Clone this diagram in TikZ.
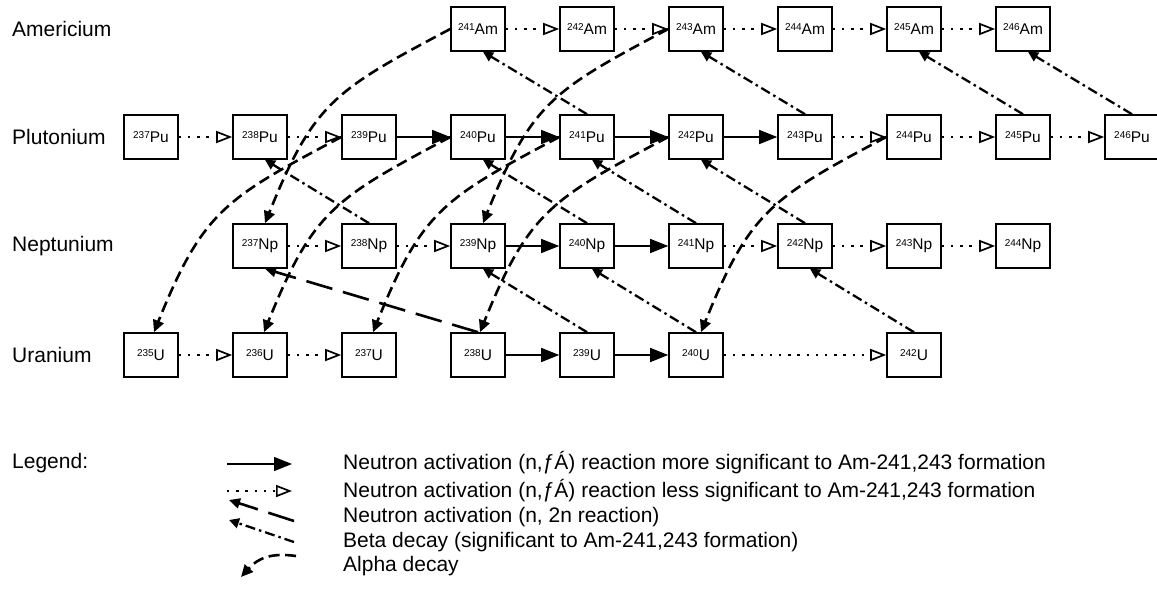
\documentclass[tikz,border=0pt]{standalone}
\usepackage{fontspec}
\setmainfont{Liberation Sans}
\usetikzlibrary{arrows.meta,calc}
\newcommand\isot[2]{\raisebox{3.6pt}{\fontsize{10}{10}\selectfont #1}#2}
\begin{document}
\begin{tikzpicture}[x=1pt,y=1pt,
  box/.style={draw,line width=1.6pt,fill=white,minimum width=54pt,minimum height=44pt,inner sep=0pt,font=\fontsize{15.5}{18}\selectfont},
  lbl/.style={anchor=west,inner sep=0pt,font=\fontsize{21}{24}\selectfont},
  sig/.style={line width=1.5pt,-{Triangle[length=18pt,width=14pt]}},
  less/.style={line width=2.4pt,dash pattern=on 2.4pt off 6.8pt,-{Triangle[open,length=16pt,width=12pt,line width=1.7pt]}},
  beta/.style={line width=2.3pt,dash pattern=on 10pt off 4pt on 2.5pt off 4pt,-{Triangle[length=10pt,width=10pt]}},
  alpha/.style={line width=2.6pt,dash pattern=on 11pt off 5.5pt,-{Triangle[length=12pt,width=11pt]}},
  ntwo/.style={line width=2.6pt,dash pattern=on 27pt off 11pt,-{Triangle[length=11pt,width=10pt]}},
  arc/.style={out=208,in=68,looseness=1.24}]
\useasboundingbox (0,0) rectangle (1157,-598);
% row labels
\node[lbl] (lAm) at (12,-29) {Americium};
\node[lbl] (lPu) at (12,-137) {Plutonium};
\node[lbl] (lNp) at (12,-246) {Neptunium};
\node[lbl] (lU)  at (12,-355) {Uranium};
% nuclide boxes
\foreach \m/\c in {241/3,242/4,243/5,244/6,245/7,246/8}
  \node[box] (A\m) at ({151+109*\c},-29) {\isot{\m}{Am}};
\foreach \m/\c in {237/0,238/1,239/2,240/3,241/4,242/5,243/6,244/7,245/8,246/9}
  \node[box] (P\m) at ({151+109*\c},-137) {\isot{\m}{Pu}};
\foreach \m/\c in {237/1,238/2,239/3,240/4,241/5,242/6,243/7,244/8}
  \node[box] (N\m) at ({151+109*\c},-246) {\isot{\m}{Np}};
\foreach \m/\c in {235/0,236/1,237/2,238/3,239/4,240/5,242/7}
  \node[box] (U\m) at ({151+109*\c},-355) {\isot{\m}{U}};
% neutron activation
\draw[less] (A241) -- (A242);
\draw[less] (A242) -- (A243);
\draw[less] (A243) -- (A244);
\draw[less] (A244) -- (A245);
\draw[less] (A245) -- (A246);
\draw[less] (P237) -- (P238);
\draw[less] (P238) -- (P239);
\draw[sig] (P239) -- (P240);
\draw[sig] (P240) -- (P241);
\draw[sig] (P241) -- (P242);
\draw[sig] (P242) -- (P243);
\draw[less] (P243) -- (P244);
\draw[less] (P244) -- (P245);
\draw[less] (P245) -- (P246);
\draw[less] (N237) -- (N238);
\draw[less] (N238) -- (N239);
\draw[sig] (N239) -- (N240);
\draw[sig] (N240) -- (N241);
\draw[less] (N241) -- (N242);
\draw[less] (N242) -- (N243);
\draw[less] (N243) -- (N244);
\draw[less] (U235) -- (U236);
\draw[less] (U236) -- (U237);
\draw[sig] (U238) -- (U239);
\draw[sig] (U239) -- (U240);
\draw[less] (U240) -- (U242);
% beta decay
\draw[beta] (P241.north) -- ($(A241.south)+(5,0)$);
\draw[beta] (P243.north) -- ($(A243.south)+(5,0)$);
\draw[beta] (P245.north) -- ($(A245.south)+(5,0)$);
\draw[beta] (P246.north) -- ($(A246.south)+(5,0)$);
\draw[beta] (N238.north) -- ($(P238.south)+(5,0)$);
\draw[beta] (N240.north) -- ($(P240.south)+(5,0)$);
\draw[beta] (N241.north) -- ($(P241.south)+(5,0)$);
\draw[beta] (N242.north) -- ($(P242.south)+(5,0)$);
\draw[beta] (U239.north) -- ($(N239.south)+(5,0)$);
\draw[beta] (U240.north) -- ($(N240.south)+(5,0)$);
\draw[beta] (U242.north) -- ($(N242.south)+(5,0)$);
% n,2n
\draw[ntwo] (U238.north) -- ($(N237.south)+(5,0)$);
% alpha decay
\draw[alpha] (A241.west) to[arc] ($(N237.north)+(5,0)$);
\draw[alpha] (A243.west) to[arc] ($(N239.north)+(5,0)$);
\draw[alpha] (P239.west) to[arc] ($(U235.north)+(3,0)$);
\draw[alpha] (P240.west) to[arc] ($(U236.north)+(4,0)$);
\draw[alpha] (P241.west) to[arc] ($(U237.north)+(4,0)$);
\draw[alpha] (P242.west) to[arc] ($(U238.north)+(2,0)$);
\draw[alpha] (P244.west) to[arc] ($(U240.north)+(5,0)$);
% legend
\node[lbl] (leg) at (12,-463) {Legend:};
\coordinate (s1) at (227,-464); \coordinate (e1) at (292,-464);
\coordinate (s2) at (227,-491); \coordinate (e2) at (292,-491);
\coordinate (s3) at (294,-521); \coordinate (e3) at (229,-500);
\coordinate (s4) at (294,-542); \coordinate (e4) at (229,-520);
\coordinate (s5) at (296,-556); \coordinate (e5) at (241,-577);
\draw[sig] (s1) -- (e1);
\draw[less] (s2) -- (e2);
\draw[ntwo] (s3) -- (e3);
\draw[beta] (s4) -- (e4);
\draw[alpha] (s5) to[out=172,in=48,looseness=1.1] (e5);
\node[lbl] (t1) at (343,-463) {Neutron activation (n,ƒÁ) reaction more significant to Am-241,243 formation};
\node[lbl] (t2) at (343,-491) {Neutron activation (n,ƒÁ) reaction less significant to Am-241,243 formation};
\node[lbl] (t3) at (343,-517) {Neutron activation (n, 2n reaction)};
\node[lbl] (t4) at (343,-542) {Beta decay (significant to Am-241,243 formation)};
\node[lbl] (t5) at (343,-566) {Alpha decay};
\end{tikzpicture}
\end{document}
